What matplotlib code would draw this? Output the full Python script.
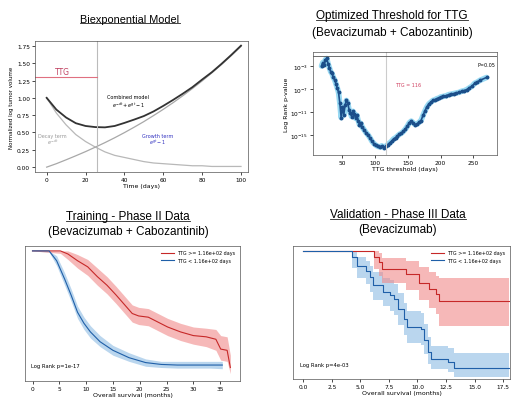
import numpy as np
import matplotlib
matplotlib.use("Agg")
import matplotlib.pyplot as plt
from matplotlib.lines import Line2D

# ---- biexponential model ----
t_days = [0, 5, 10, 15, 20, 25, 30, 35, 40, 45, 50, 55, 60, 65, 70, 75, 80, 85, 90, 95, 100]
decay_term = [1.0, 0.78, 0.61, 0.47, 0.37, 0.29, 0.22, 0.17, 0.14, 0.11, 0.08,
              0.06, 0.05, 0.04, 0.03, 0.02, 0.02, 0.01, 0.01, 0.01, 0.01]
growth_term = [0.0, 0.05, 0.106, 0.164, 0.224, 0.288, 0.354, 0.424, 0.498, 0.576, 0.657,
               0.744, 0.834, 0.929, 1.029, 1.134, 1.244, 1.36, 1.481, 1.609, 1.743]
combined = [1.0, 0.83, 0.716, 0.634, 0.594, 0.578, 0.574, 0.594, 0.638, 0.686, 0.737,
            0.804, 0.884, 0.969, 1.059, 1.154, 1.264, 1.37, 1.491, 1.619, 1.753]
ttg_day = 25.7
ttg_level = 1.3

# ---- threshold scan (log10 p-values) ----
thr_days = [18, 20, 22, 24, 26, 28, 30, 32, 34, 36, 38, 40, 42, 44, 46, 48, 50, 52, 54, 56,
            58, 60, 62, 64, 66, 68, 70, 72, 74, 76, 78, 80, 83, 86, 89, 92, 95, 98, 101, 104,
            107, 110, 113, 116, 119, 122, 125, 128, 131, 134, 137, 140, 143, 146, 149, 152,
            155, 158, 161, 164, 167, 170, 173, 176, 179, 182, 185, 188, 191, 194, 197, 200,
            204, 208, 212, 216, 220, 224, 228, 232, 236, 240, 244, 248, 252, 256, 260, 270]
log_p = [-3.0, -2.4, -2.8, -1.9, -1.7, -2.6, -3.3, -4.0, -4.3, -5.0, -5.4, -6.1, -6.8, -7.6,
         -9.5, -12.0, -10.2, -11.5, -9.8, -9.0, -9.4, -10.6, -11.2, -11.8, -10.9, -11.3, -12.1,
         -11.6, -12.5, -13.2, -13.0, -13.6, -14.1, -14.6, -15.0, -15.5, -16.1, -16.5, -16.8,
         -17.0, -17.1, -16.9, -17.2, -17.0, -16.7, -16.4, -16.1, -15.7, -15.5, -15.2, -14.9,
         -14.7, -14.4, -14.0, -13.5, -12.9, -12.6, -12.9, -13.2, -13.1, -12.8, -12.5, -11.6,
         -10.8, -10.1, -9.6, -9.3, -9.0, -8.9, -8.7, -8.6, -8.4, -8.3, -8.2, -8.0, -7.9, -7.8,
         -7.7, -7.6, -7.4, -7.3, -7.1, -6.8, -6.5, -6.0, -5.8, -5.5, -5.0]
best_thr = 116

# ---- training KM ----
tr_hi_t = [0, 5.2, 6.6, 8.4, 10.3, 12.1, 13.9, 15.6, 17.4, 18.6, 19.8, 21.6, 23.4, 25.2,
           27.6, 30.0, 32.4, 34.2, 35.1, 36.3, 36.9]
tr_hi_s = [1.0, 1.0, 0.975, 0.92, 0.87, 0.79, 0.72, 0.64, 0.55, 0.49, 0.47, 0.46, 0.42, 0.38,
           0.34, 0.31, 0.30, 0.28, 0.20, 0.19, 0.05]
tr_hi_lo = [1.0, 0.98, 0.93, 0.86, 0.80, 0.72, 0.65, 0.57, 0.48, 0.42, 0.40, 0.39, 0.35, 0.31,
            0.27, 0.24, 0.22, 0.19, 0.11, 0.10, 0.0]
tr_hi_up = [1.0, 1.0, 1.0, 0.97, 0.93, 0.86, 0.79, 0.71, 0.62, 0.56, 0.54, 0.53, 0.49, 0.45,
            0.41, 0.38, 0.37, 0.36, 0.31, 0.30, 0.15]
tr_lo_t = [0, 3.1, 4.5, 6.0, 7.2, 8.4, 9.6, 10.8, 12.6, 15.0, 18.0, 21.1, 24.0, 27.0, 30.0,
           33.0, 35.4]
tr_lo_s = [1.0, 1.0, 0.92, 0.77, 0.64, 0.50, 0.41, 0.34, 0.26, 0.19, 0.13, 0.09, 0.075, 0.07,
           0.07, 0.07, 0.07]
tr_lo_lo = [1.0, 0.99, 0.88, 0.72, 0.59, 0.45, 0.36, 0.29, 0.22, 0.15, 0.10, 0.06, 0.05,
            0.045, 0.045, 0.045, 0.04]
tr_lo_up = [1.0, 1.0, 0.96, 0.82, 0.69, 0.55, 0.46, 0.39, 0.31, 0.23, 0.17, 0.12, 0.10,
            0.10, 0.10, 0.10, 0.10]

# ---- validation KM (step) ----
va_hi_t = [0, 6.2, 6.6, 6.9, 9.0, 10.1, 11.0, 11.6, 11.9, 18.0]
va_hi_s = [1.0, 0.95, 0.91, 0.85, 0.81, 0.74, 0.69, 0.65, 0.59, 0.59]
va_hi_lo = [1.0, 0.85, 0.80, 0.74, 0.68, 0.60, 0.54, 0.49, 0.39, 0.39]
va_hi_up = [1.0, 1.0, 0.98, 0.94, 0.92, 0.87, 0.83, 0.80, 0.78, 0.78]
va_lo_t = [0, 4.3, 4.7, 5.5, 5.8, 6.1, 7.0, 7.6, 7.9, 8.3, 8.8, 9.1, 10.3, 10.6, 10.9, 11.2,
           12.7, 13.2, 18.0]
va_lo_s = [1.0, 0.95, 0.88, 0.84, 0.79, 0.72, 0.67, 0.64, 0.61, 0.53, 0.45, 0.38, 0.37, 0.28,
           0.18, 0.12, 0.10, 0.05, 0.05]
va_lo_lo = [1.0, 0.86, 0.78, 0.73, 0.67, 0.60, 0.55, 0.51, 0.48, 0.40, 0.32, 0.25, 0.24, 0.16,
            0.08, 0.04, 0.02, -0.02, -0.02]
va_lo_up = [1.0, 0.99, 0.95, 0.92, 0.88, 0.83, 0.78, 0.76, 0.73, 0.66, 0.58, 0.51, 0.50, 0.41,
            0.30, 0.23, 0.21, 0.17, 0.17]

label_hi = "TTG >= 1.16e+02 days"
label_lo = "TTG < 1.16e+02 days"
RED = "#c62828"
RED_BAND = "#f08a8a"
BLUE = "#1f5fa8"
BLUE_BAND = "#8dbbe3"

W, H = 515, 402
fig = plt.figure(figsize=(W / 100, H / 100), dpi=100)


def box(l, t, r, b):
    return [l / W, 1 - b / H, (r - l) / W, (b - t) / H]


def small(ax, fs=4.2):
    ax.tick_params(labelsize=fs, length=2, width=0.5, pad=1.5)
    for s in ax.spines.values():
        s.set_linewidth(0.5)
        s.set_color("#555555")


# Top left
ax1 = fig.add_axes(box(35, 42, 248, 173))
ax1.plot(t_days, decay_term, color="#b8b8b8", lw=0.9)
ax1.plot(t_days, growth_term, color="#a8a8a8", lw=0.9)
ax1.plot(t_days, combined, color="#333333", lw=1.3)
ax1.axvline(ttg_day, color="#bbbbbb", lw=0.8)
ax1.plot([-6, ttg_day], [ttg_level, ttg_level], color="#e07080", lw=0.8)
ax1.text(8, 1.35, "TTG", color="#c04060", fontsize=5.5, ha="center")
ax1.text(42, 1.0, "Combined model", fontsize=3.5, ha="center")
ax1.text(42, 0.87, r"$e^{-dt}+e^{gt}-1$", fontsize=3.5, ha="center")
ax1.text(3, 0.43, "Decay term", fontsize=3.5, ha="center", color="#999999")
ax1.text(3, 0.33, r"$e^{-dt}$", fontsize=3.5, ha="center", color="#999999")
ax1.text(57, 0.43, "Growth term", fontsize=3.5, ha="center", color="#3030c0")
ax1.text(57, 0.33, r"$e^{gt}-1$", fontsize=3.5, ha="center", color="#3030c0")
ax1.set_xlim(-6, 103.6)
ax1.set_ylim(-0.07, 1.82)
ax1.set_xticks([0, 20, 40, 60, 80, 100])
ax1.set_yticks([0, 0.25, 0.5, 0.75, 1.0, 1.25, 1.5, 1.75])
ax1.set_xlabel("Time (days)", fontsize=4.5, labelpad=1)
ax1.set_ylabel("Normalized log tumor volume", fontsize=4, labelpad=2)
small(ax1)

# Top right
ax2 = fig.add_axes(box(313, 53, 497, 156))
pv = 10.0 ** np.array(log_p)
ax2.semilogy(thr_days, pv, color="#7fd0f0", lw=4, alpha=0.8, solid_capstyle="round")
ax2.semilogy(thr_days, pv, "o-", color="#1c4f8a", ms=1.8, lw=1.2)
ax2.axvline(best_thr, color="#cccccc", lw=0.8)
ax2.axhline(0.05, color="#555555", lw=0.6)
ax2.text(0.99, 0.86, "P=0.05", transform=ax2.transAxes, fontsize=3.5, ha="right")
ax2.text(130, 10 ** -6.5, "TTG = 116", color="#d04060", fontsize=3.5)
ax2.set_xlim(5, 286)
ax2.set_ylim(10 ** -18.5, 10 ** -0.57)
ax2.set_yticks([1e-3, 1e-7, 1e-11, 1e-15])
ax2.set_yticklabels([r"$10^{-3}$", r"$10^{-7}$", r"$10^{-11}$", r"$10^{-15}$"])
ax2.minorticks_off()
ax2.set_xticks([50, 100, 150, 200, 250])
ax2.set_xlabel("TTG threshold (days)", fontsize=4.5, labelpad=1)
ax2.set_ylabel("Log Rank p-value", fontsize=4.5, labelpad=1)
small(ax2)

# Bottom left
ax3 = fig.add_axes(box(25, 247, 240, 382))
ax3.fill_between(tr_lo_t, tr_lo_lo, tr_lo_up, color=BLUE_BAND, alpha=0.6, lw=0)
ax3.fill_between(tr_hi_t, tr_hi_lo, tr_hi_up, color=RED_BAND, alpha=0.6, lw=0)
ax3.plot(tr_hi_t, tr_hi_s, color=RED, lw=0.8, label=label_hi)
ax3.plot(tr_lo_t, tr_lo_s, color=BLUE, lw=0.8, label=label_lo)
ax3.set_xlim(-1.4, 38.7)
ax3.set_ylim(-0.06, 1.04)
ax3.set_xticks([0, 5, 10, 15, 20, 25, 30, 35])
ax3.set_yticks([])
ax3.set_xlabel("Overall survival (months)", fontsize=4.5, labelpad=1)
ax3.text(0.03, 0.1, "Log Rank p=1e-17", transform=ax3.transAxes, fontsize=3.8)
ax3.legend(loc="upper right", fontsize=3.5, frameon=False, handlelength=2.5)
small(ax3)

# Bottom right
ax4 = fig.add_axes(box(293, 247, 510, 380))
ax4.fill_between(va_lo_t, va_lo_lo, va_lo_up, step="post", color=BLUE_BAND, alpha=0.6, lw=0)
ax4.fill_between(va_hi_t, va_hi_lo, va_hi_up, step="post", color=RED_BAND, alpha=0.6, lw=0)
ax4.step(va_hi_t, va_hi_s, where="post", color=RED, lw=0.8, label=label_hi)
ax4.step(va_lo_t, va_lo_s, where="post", color=BLUE, lw=0.8, label=label_lo)
ax4.set_xlim(-0.9, 18.1)
ax4.set_ylim(-0.04, 1.04)
ax4.set_xticks([0, 2.5, 5, 7.5, 10, 12.5, 15, 17.5])
ax4.set_yticks([])
ax4.set_xlabel("Overall survival (months)", fontsize=4.5, labelpad=1)
ax4.text(0.03, 0.1, "Log Rank p=4e-03", transform=ax4.transAxes, fontsize=3.8)
ax4.legend(loc="upper right", fontsize=3.5, frameon=False, handlelength=2.5)
small(ax4)

# Titles
tfont = dict(family="Liberation Sans", fontsize=8.5, ha="center", va="center")
under = [
    fig.text(130 / W, 1 - 20 / H, "Biexponential Model", **dict(tfont, fontsize=7.8)),
    fig.text(392 / W, 1 - 16 / H, "Optimized Threshold for TTG", **tfont),
    fig.text(128 / W, 1 - 217 / H, "Training - Phase II Data", **tfont),
    fig.text(398 / W, 1 - 215 / H, "Validation - Phase III Data", **tfont),
]
fig.text(392 / W, 1 - 33 / H, "(Bevacizumab + Cabozantinib)", **tfont)
fig.text(128 / W, 1 - 232 / H, "(Bevacizumab + Cabozantinib)", **tfont)
fig.text(398 / W, 1 - 230 / H, "(Bevacizumab)", **tfont)

fig.canvas.draw()
inv = fig.transFigure.inverted()
for t in under:
    bb = t.get_window_extent()
    (x0, y0), (x1, _) = inv.transform([(bb.x0, bb.y0 + 1), (bb.x1, bb.y0 + 1)])
    fig.add_artist(Line2D([x0, x1], [y0, y0], transform=fig.transFigure,
                          color="#222222", lw=0.6))

fig.savefig("out.png", dpi=100)
